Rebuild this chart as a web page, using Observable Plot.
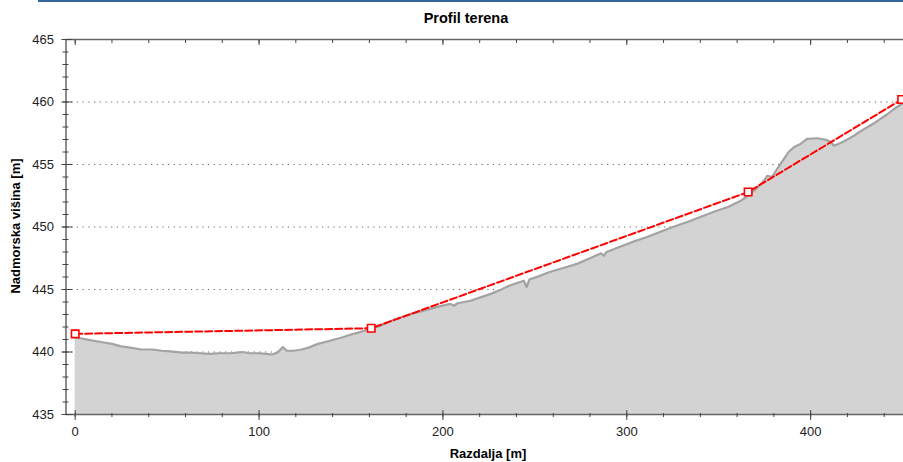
<!DOCTYPE html>
<html>
<head>
<meta charset="utf-8">
<script src="https://cdn.jsdelivr.net/npm/d3@7"></script>
<script src="https://cdn.jsdelivr.net/npm/@observablehq/plot@0.6"></script>
<style>
  html, body { margin: 0; padding: 0; background: #fff; }
  #wrap { position: relative; width: 903px; height: 462px; overflow: hidden; font-family: "Liberation Sans", Arial, sans-serif; }
  #bar { position: absolute; left: 38px; right: 0; top: 0; height: 2px; background: #336699; }
  #title { position: absolute; top: 10px; left: 366px; width: 200px; text-align: center; font-weight: bold; font-size: 14.5px; color: #000; }
  #xlabel { position: absolute; top: 446px; left: 388px; width: 200px; text-align: center; font-weight: bold; font-size: 13px; color: #000; }
  #ylabel { position: absolute; left: 15px; top: 226px; transform: translate(-50%, -50%) rotate(-90deg); white-space: nowrap; font-weight: bold; font-size: 13px; color: #000; }
  #chart { position: absolute; left: 0; top: 0; }
</style>
</head>
<body>
<div id="wrap">
  <div id="chart"></div>
  <div id="bar"></div>
  <div id="title">Profil terena</div>
  <div id="xlabel">Razdalja [m]</div>
  <div id="ylabel">Nadmorska višina [m]</div>
</div>
<script>
// Terrain profile (distance [m], elevation [m])
const distance = [0, 3, 8, 14, 20, 25, 30, 36, 42, 47, 52, 58, 63, 68, 73, 78, 84, 88, 91, 95, 100, 104, 107, 110, 113, 115, 119, 123, 127, 132, 136, 141, 146, 150, 154, 157, 161, 166, 172, 178, 183, 188, 193, 198, 204, 206, 208, 215, 220, 226, 231, 236, 240, 244, 245.5, 247, 252, 258, 265, 273, 280, 286, 287.5, 289, 296, 304, 311, 318, 325, 333, 340, 347, 355, 362, 366, 370, 374, 376.5, 379, 382, 385.5, 388, 391, 394.5, 398, 403.6, 409, 411, 412.7, 416, 420, 423.5, 427, 431, 434.5, 438, 441.5, 445, 449, 451];
const elevation = [441.2, 441.1, 440.95, 440.8, 440.65, 440.45, 440.35, 440.2, 440.2, 440.1, 440.05, 439.95, 439.95, 439.9, 439.85, 439.9, 439.9, 439.95, 440.0, 439.9, 439.9, 439.85, 439.8, 439.95, 440.4, 440.1, 440.1, 440.2, 440.35, 440.65, 440.8, 441.0, 441.2, 441.4, 441.55, 441.7, 441.85, 442.1, 442.5, 442.8, 443.05, 443.25, 443.45, 443.65, 443.85, 443.7, 443.9, 444.1, 444.35, 444.65, 444.95, 445.3, 445.5, 445.7, 445.2, 445.8, 446.05, 446.4, 446.7, 447.05, 447.5, 447.9, 447.7, 448.0, 448.4, 448.85, 449.2, 449.6, 450.0, 450.4, 450.8, 451.2, 451.6, 452.1, 452.5, 453.0, 453.6, 454.1, 454.0, 454.7, 455.45, 456.0, 456.4, 456.65, 457.05, 457.1, 456.95, 456.8, 456.5, 456.7, 457.0, 457.3, 457.65, 458.0, 458.3, 458.65, 459.0, 459.4, 459.8, 460.0];

// Route points (red dashed line with markers)
const routeDistance = [0, 161, 366, 449.5];
const routeElevation = [441.45, 441.9, 452.8, 460.2];

// Axis ticks
const xMajor = [0, 100, 200, 300, 400];
const xMinor = d3.range(0, 460, 20);
const yMajor = [435, 440, 445, 450, 455, 460, 465];
const yMinor = d3.range(435, 466, 1);
const xDomain = [-5, 450.5];
const yDomain = [435, 465];

const terrain = distance.map((d, i) => ({d, e: elevation[i]}));
const route = routeDistance.map((d, i) => ({d, e: routeElevation[i]}));
const empty = () => "";

const chart = Plot.plot({
  width: 903,
  height: 462,
  marginTop: 39,
  marginBottom: 48,
  marginLeft: 65.5,
  marginRight: 0,
  style: {fontFamily: "'Liberation Sans', Arial, sans-serif", fontSize: "13px", color: "#222", background: "transparent"},
  x: {domain: xDomain},
  y: {domain: yDomain},
  marks: [
    Plot.gridY(yMajor, {stroke: "#666", strokeOpacity: 1, strokeDasharray: "1.2,4.5"}),
    Plot.areaY(terrain, {x: "d", y1: yDomain[0], y2: "e", fill: "#d3d3d3"}),
    Plot.line(terrain, {x: "d", y: "e", stroke: "#a3a3a3", strokeWidth: 2.2}),
    Plot.line(route, {x: "d", y: "e", stroke: "#ff0000", strokeWidth: 2, strokeDasharray: "7,3"}),
    Plot.dot(route, {x: "d", y: "e", symbol: "square", r: 4.2, fill: "white", stroke: "#ff0000", strokeWidth: 1.6}),
    Plot.ruleY([yDomain[0], yDomain[1]], {stroke: "#666", strokeWidth: 1.5}),
    Plot.ruleX([xDomain[0]], {stroke: "#666", strokeWidth: 1.5}),
    // bottom axis
    Plot.axisX(xMajor, {anchor: "bottom", tickSize: 10, dy: -4, tickFormat: empty, label: null, stroke: "#444"}),
    Plot.axisX(xMinor, {anchor: "bottom", tickSize: 4, dy: -1, tickFormat: empty, label: null, stroke: "#444"}),
    Plot.axisX(xMajor, {anchor: "bottom", tickSize: 0, tickPadding: 12, label: null, fontSize: 13, fill: "#222"}),
    // top axis (inward ticks)
    Plot.axisX(xMajor, {anchor: "top", tickSize: 5, dy: 5, tickFormat: empty, label: null, stroke: "#444"}),
    Plot.axisX(xMinor, {anchor: "top", tickSize: 3, dy: 3, tickFormat: empty, label: null, stroke: "#444"}),
    // left axis
    Plot.axisY(yMajor, {anchor: "left", tickSize: 11, dx: 7, tickFormat: empty, label: null, stroke: "#444"}),
    Plot.axisY(yMinor, {anchor: "left", tickSize: 6, dx: 3, tickFormat: empty, label: null, stroke: "#444"}),
    Plot.axisY(yMajor, {anchor: "left", tickSize: 0, tickPadding: 12, label: null, fontSize: 13, fill: "#222"})
  ]
});
document.getElementById("chart").appendChild(chart);
</script>
</body>
</html>
